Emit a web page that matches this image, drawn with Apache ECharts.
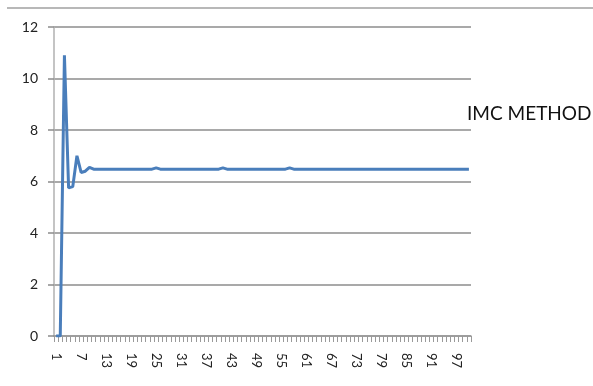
<!DOCTYPE html>
<html><head><meta charset="utf-8">
<script src="https://cdn.jsdelivr.net/npm/echarts@6/dist/echarts.min.js"></script>
<style>html,body{margin:0;padding:0;background:#fff}#c{width:593px;height:386px}</style>
</head><body><div id="c"></div>
<script>
const seriesName = 'IMC METHOD';
const categories = Array.from({length: 100}, (_, i) => String(i + 1));
const imcValues = [
  0, 0, 10.9, 5.75, 5.8, 7.0, 6.35, 6.4, 6.55,
  6.48, 6.48, 6.48, 6.48, 6.48, 6.48, 6.48, 6.48, 6.48, 6.48, 6.48, 6.48, 6.48, 6.48, 6.48,
  6.53,
  6.48, 6.48, 6.48, 6.48, 6.48, 6.48, 6.48, 6.48, 6.48, 6.48, 6.48, 6.48, 6.48, 6.48, 6.48,
  6.53,
  6.48, 6.48, 6.48, 6.48, 6.48, 6.48, 6.48, 6.48, 6.48, 6.48, 6.48, 6.48, 6.48, 6.48, 6.48,
  6.53,
  6.48, 6.48, 6.48, 6.48, 6.48, 6.48, 6.48, 6.48, 6.48, 6.48,
  6.48, 6.48, 6.48, 6.48, 6.48, 6.48, 6.48, 6.48, 6.48, 6.48,
  6.48, 6.48, 6.48, 6.48, 6.48, 6.48, 6.48, 6.48, 6.48, 6.48,
  6.48, 6.48, 6.48, 6.48, 6.48, 6.48, 6.48, 6.48, 6.48, 6.48,
  6.48, 6.48, 6.48
];
const yMin = 0, yMax = 12, yStep = 2;

const chart = echarts.init(document.getElementById('c'), null, {renderer: 'canvas'});
chart.setOption({
  animation: false,
  backgroundColor: '#fff',
  textStyle: {fontFamily: 'Lato'},
  title: {
    text: seriesName,
    left: 462, top: 101,
    padding: [3, 5, 3, 5],
    backgroundColor: '#fff',
    textStyle: {fontFamily: 'Lato', fontSize: 19, fontWeight: 'normal', color: '#111'}
  },
  graphic: [{
    type: 'line',
    shape: {x1: 7, y1: 8, x2: 593, y2: 8},
    style: {stroke: '#a0a0a0', lineWidth: 1.5},
    silent: true
  }],
  grid: {left: 54, right: 122, top: 27, bottom: 50},
  xAxis: {
    type: 'category',
    data: categories,
    boundaryGap: true,
    axisLine: {lineStyle: {color: '#9a9a9a', width: 1.5}},
    axisTick: {show: true, interval: 0, length: 6, lineStyle: {color: '#9a9a9a'}},
    axisLabel: {interval: 5, rotate: -90, margin: 17, fontSize: 13, color: '#222', fontFamily: 'Lato'},
    splitLine: {show: false}
  },
  yAxis: {
    type: 'value',
    min: yMin, max: yMax, interval: yStep,
    axisLine: {show: true, lineStyle: {color: '#b0b0b0', width: 1.5}},
    axisTick: {show: true, length: 6, lineStyle: {color: '#8c8c8c', width: 1.5}},
    axisLabel: {margin: 16, fontSize: 14, color: '#222', fontFamily: 'Lato'},
    splitLine: {show: true, lineStyle: {color: '#8c8c8c', width: 1.5}}
  },
  series: [{
    name: seriesName,
    type: 'line',
    data: imcValues,
    showSymbol: false,
    symbol: 'none',
    lineStyle: {color: '#4a7ebb', width: 3},
    itemStyle: {color: '#4a7ebb'}
  }]
});
</script></body></html>
